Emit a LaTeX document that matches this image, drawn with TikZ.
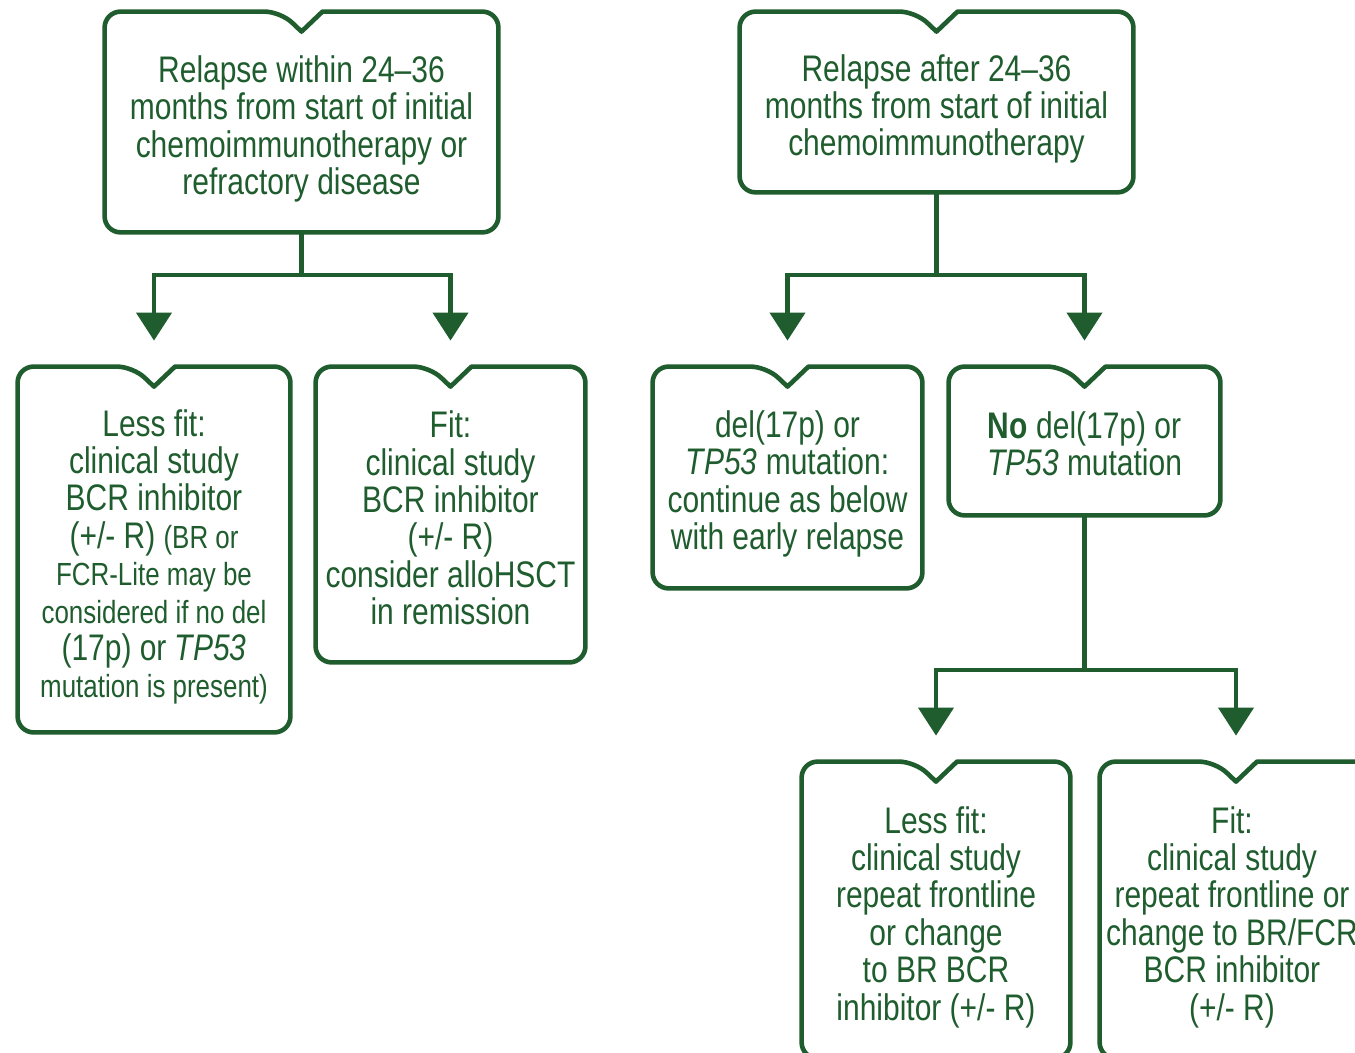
\documentclass[tikz,border=0pt]{standalone}
\usepackage{fontspec}
\setmainfont{Liberation Sans}[FakeStretch=0.81]
\usetikzlibrary{arrows.meta}
\definecolor{pine}{RGB}{31,93,46}
\newcommand{\smtext}{\fontsize{16}{18.7}\selectfont}
\tikzset{
  box/.style={rectangle, draw=none, inner sep=0pt},
  boxtext/.style={text=pine, align=center, inner sep=0pt,
    font=\fontsize{18.5}{18.7}\selectfont},
  outline/.style={draw=pine, line width=2.3pt, line join=round},
  link/.style={draw=pine, line width=2.1pt,
    -{Triangle[length=14pt,width=17.5pt]}, shorten >=13pt},
}
% rounded frame with a V-shaped notch at the top centre
\newcommand{\notchframe}[1]{%
  \draw[outline] ([yshift=-10pt]#1.north) -- ([xshift=10.5pt]#1.north)
    [rounded corners=8pt] -- (#1.north east) -- (#1.south east)
    -- (#1.south west) -- (#1.north west)
    -- ([xshift=-10.5pt]#1.north) [sharp corners] -- cycle;}
\begin{document}
\begin{tikzpicture}[x=0.5pt,y=-0.5pt]
  \clip (0,0) rectangle (1355,1053);
  \fill[white] (0,0) rectangle (1355,1053);

  % frames
  \node[box, minimum width=196.5pt, minimum height=110pt]  (A) at (301.5,122)  {};
  \node[box, minimum width=136pt,   minimum height=182.5pt] (B) at (154,549.5)  {};
  \node[box, minimum width=134.5pt, minimum height=147.5pt] (C) at (450.5,514.5) {};
  \node[box, minimum width=196.5pt, minimum height=90pt]   (D) at (936.5,102)  {};
  \node[box, minimum width=134.5pt, minimum height=110.5pt] (E) at (787.5,477.5) {};
  \node[box, minimum width=135.5pt, minimum height=74pt]   (F) at (1084.5,441) {};
  \node[box, minimum width=134pt,   minimum height=148pt]  (G) at (936,910)    {};
  \node[box, minimum width=136pt,   minimum height=148pt]  (H) at (1236,910)   {};
  \foreach \b in {A,B,C,D,E,F,G,H} {\notchframe{\b}}

  % texts
  \node[boxtext] (Atext) at (301.5,129)
    {Relapse within 24–36\\months from start of initial\\chemoimmunotherapy or\\refractory disease};
  \node[boxtext] (Btext) at (154,557)
    {Less fit:\\clinical study\\BCR inhibitor\\(+/- R) {\smtext(BR or}\\{\smtext FCR-Lite may be}\\{\smtext considered if no del}\\(17p) or \textit{TP53}\\{\smtext mutation is present)}};
  \node[boxtext] (Ctext) at (450.5,518)
    {Fit:\\clinical study\\BCR inhibitor\\(+/- R)\\consider alloHSCT\\in remission};
  \node[boxtext] (Dtext) at (936.5,109)
    {Relapse after 24–36\\months from start of initial\\chemoimmunotherapy};
  \node[boxtext] (Etext) at (787.5,484)
    {del(17p) or\\\textit{TP53} mutation:\\continue as below\\with early relapse};
  \node[boxtext] (Ftext) at (1084.5,444)
    {\textbf{No} del(17p) or\\\textit{TP53} mutation};
  \node[boxtext] (Gtext) at (936,917)
    {Less fit:\\clinical study\\repeat frontline\\or change\\to BR BCR\\inhibitor (+/- R)};
  \node[boxtext] (Htext) at (1232,917)
    {Fit:\\clinical study\\repeat frontline or\\change to BR/FCR\\BCR inhibitor\\(+/- R)};

  % branching connectors
  \coordinate (lvlone) at (0,275);
  \coordinate (lvltwo) at (0,670);
  \draw[link] (A.south) -- (A.south |- lvlone) -| (B.north);
  \draw[link] (A.south) -- (A.south |- lvlone) -| (C.north);
  \draw[link] (D.south) -- (D.south |- lvlone) -| (E.north);
  \draw[link] (D.south) -- (D.south |- lvlone) -| (F.north);
  \draw[link] (F.south) -- (F.south |- lvltwo) -| (G.north);
  \draw[link] (F.south) -- (F.south |- lvltwo) -| (H.north);
\end{tikzpicture}
\end{document}
